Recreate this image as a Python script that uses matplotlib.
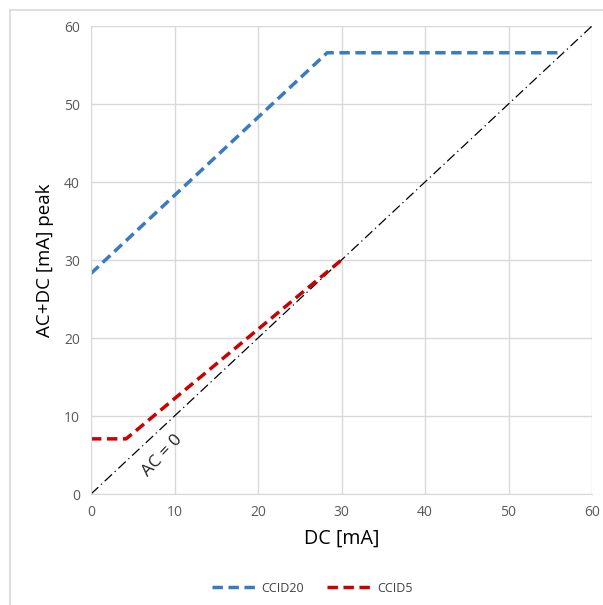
import matplotlib
matplotlib.use("Agg")
import matplotlib.pyplot as plt
from matplotlib.lines import Line2D

# Data
ccid20_x = [0, 28.28, 56.57]
ccid20_y = [28.28, 56.57, 56.57]
ccid5_x = [0, 4.2, 30]
ccid5_y = [7.07, 7.07, 30]
ac0_x = [0, 60]
ac0_y = [0, 60]
ticks = [0, 10, 20, 30, 40, 50, 60]

plt.rcParams['font.family'] = ['Open Sans', 'DejaVu Sans']

W, H = 603, 605
fig = plt.figure(figsize=(W/100, H/100), dpi=100)
ax = fig.add_axes([91/W, 1-494/H, (592-91)/W, (494-26)/H])

grid_c = '#d9d9d9'
ax.set_xlim(0, 60)
ax.set_ylim(0, 60)
ax.set_xticks(ticks)
ax.set_yticks(ticks)
ax.grid(True, color=grid_c, linewidth=1)
ax.set_axisbelow(True)
for s in ax.spines.values():
    s.set_visible(False)
ax.spines['left'].set_visible(True)
ax.spines['bottom'].set_visible(True)
ax.spines['left'].set_color(grid_c)
ax.spines['bottom'].set_color(grid_c)
ax.tick_params(length=0, labelsize=10, colors='#595959', pad=8)

ax.plot(ac0_x, ac0_y, color='black', linestyle=(0, (8, 3, 1, 3)), linewidth=0.9)
ax.plot(ccid20_x, ccid20_y, color='#3a7ac0', linestyle=(0, (3, 1.6)), linewidth=2.5, label='CCID20')
ax.plot(ccid5_x, ccid5_y, color='#cc0000', linestyle=(0, (3, 1.6)), linewidth=2.5, label='CCID5')

ax.text(8.5, 4.9, 'AC = 0', rotation=47, fontsize=12.5, ha='center', va='center', color='#222222')

ax.set_xlabel('DC [mA]', fontsize=14.2, color='black', labelpad=6)
ax.set_ylabel('AC+DC [mA] peak', fontsize=13.5, color='black', labelpad=7)

leg = fig.legend(handles=ax.get_lines()[1:], loc='center', bbox_to_anchor=(312/W, 1-588/H),
                 ncol=2, frameon=False, fontsize=9, handlelength=3.7, columnspacing=1.8,
                 handletextpad=0.3)
for t in leg.get_texts():
    t.set_color('#404040')

# outer border lines
fig.add_artist(Line2D([9.5/W, 9.5/W], [0, 1-9.5/H], color='#d9d9d9', linewidth=1.2, transform=fig.transFigure))
fig.add_artist(Line2D([9.5/W, 1], [1-9.5/H, 1-9.5/H], color='#d9d9d9', linewidth=1.2, transform=fig.transFigure))

fig.savefig('out.png', dpi=100)
